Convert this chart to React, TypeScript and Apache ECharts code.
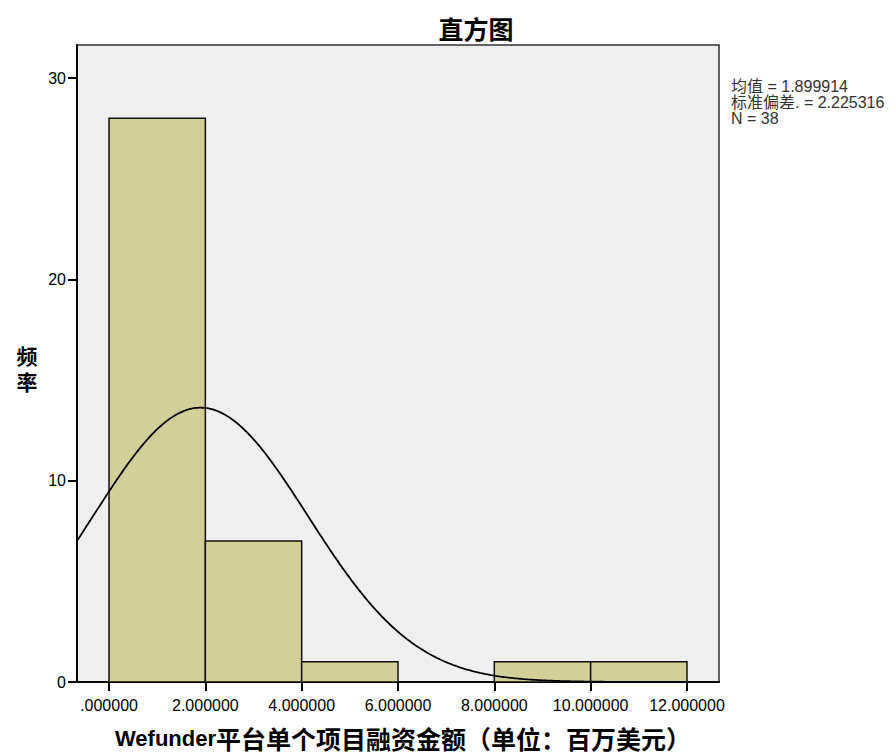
import React, { useEffect, useRef } from "react";
import * as echarts from "echarts";

const binLow = [0, 2, 4, 6, 8, 10];
const binHigh = [2, 4, 6, 8, 10, 12];
const frequency = [28, 7, 1, 0, 1, 1];
const xTicks = [0, 2, 4, 6, 8, 10, 12];
const yTicks = [0, 10, 20, 30];
const statMean = 1.899914;
const statSd = 2.225316;
const statN = 38;
const binWidth = 2;
const xMin = -0.665;
const xMax = 12.665;
const yMax = 31.64;

const FONT = "'Liberation Sans', Arial, 'Noto Sans CJK SC', sans-serif";
const CJK = "'Noto Sans CJK SC', sans-serif";

function normalCurve(): number[][] {
  const pts: number[][] = [];
  const steps = 400;
  for (let i = 0; i <= steps; i++) {
    const x = xMin + ((xMax - xMin) * i) / steps;
    const z = (x - statMean) / statSd;
    const y = (statN * binWidth) / (statSd * Math.sqrt(2 * Math.PI)) * Math.exp(-0.5 * z * z);
    pts.push([x, y]);
  }
  return pts;
}

export default function App() {
  const ref = useRef<HTMLDivElement>(null);
  useEffect(() => {
    if (!ref.current) return;
    const chart = echarts.init(ref.current, null, { renderer: "svg" });
    const barData = binLow.map((lo, i) => [lo, binHigh[i], frequency[i]]);
    const centerText = (x: number, y: number, text: string, size: number, family: string) => ({
      type: "text",
      x,
      y,
      style: {
        text,
        fontSize: size,
        lineHeight: size,
        fontWeight: "bold",
        fontFamily: family,
        fill: "#000",
        align: "center",
        verticalAlign: "middle",
        textAlign: "center",
        textVerticalAlign: "middle",
      },
    });
    chart.setOption({
      animation: false,
      backgroundColor: "#ffffff",
      grid: {
        left: 77,
        right: 177,
        top: 45,
        bottom: 72,
        show: true,
        backgroundColor: "#efefef",
        borderColor: "#333333",
        borderWidth: 1.5,
      },
      xAxis: {
        type: "value",
        min: xMin,
        max: xMax,
        splitLine: { show: false },
        axisLine: { show: true, onZero: false, lineStyle: { color: "#000", width: 2 } },
        axisTick: {
          show: true,
          customValues: xTicks,
          length: 9,
          lineStyle: { color: "#000", width: 2 },
        },
        axisLabel: {
          customValues: xTicks,
          margin: 15,
          color: "#000",
          fontSize: 16,
          fontFamily: FONT,
          formatter: (v: number) => (v === 0 ? ".000000" : v.toFixed(6)),
        },
      },
      yAxis: {
        type: "value",
        min: 0,
        max: yMax,
        splitLine: { show: false },
        axisLine: { show: true, onZero: false, lineStyle: { color: "#000", width: 2 } },
        axisTick: {
          show: true,
          customValues: yTicks,
          length: 9,
          lineStyle: { color: "#000", width: 2 },
        },
        axisLabel: {
          customValues: yTicks,
          margin: 11,
          color: "#000",
          fontSize: 16,
          fontFamily: FONT,
        },
      },
      series: [
        {
          type: "custom",
          data: barData,
          encode: { x: [0, 1], y: 2 },
          clip: true,
          z: 2,
          renderItem: (params: any, api: any) => {
            const h = api.value(2);
            if (!h) return null;
            const p0 = api.coord([api.value(0), h]);
            const p1 = api.coord([api.value(1), 0]);
            return {
              type: "rect",
              shape: { x: p0[0], y: p0[1], width: p1[0] - p0[0], height: p1[1] - p0[1] },
              style: { fill: "#d3cf98", stroke: "#111", lineWidth: 1.5 },
            };
          },
        },
        {
          type: "line",
          data: normalCurve(),
          showSymbol: false,
          symbol: "none",
          smooth: false,
          clip: true,
          z: 3,
          lineStyle: { color: "#000", width: 1.8 },
        },
      ],
      graphic: [
        centerText(476, 28, "直方图", 25, CJK),
        {
          type: "text",
          x: 403,
          y: 738,
          style: {
            text: "{a|Wefunder}{b|平台单个项目融资金额（单位：百万美元）}",
            align: "center",
            verticalAlign: "middle",
            textAlign: "center",
            textVerticalAlign: "middle",
            fill: "#000",
            rich: {
              a: { fontSize: 22, lineHeight: 22, fontWeight: "bold", fontFamily: FONT, fill: "#000" },
              b: { fontSize: 25, lineHeight: 22, fontWeight: "bold", fontFamily: CJK, fill: "#000" },
            },
          },
        },
        centerText(27, 355, "频", 21, CJK),
        centerText(27, 381, "率", 21, CJK),
        {
          type: "text",
          x: 731,
          y: 78,
          style: {
            text: `均值 = ${statMean.toFixed(6)}\n标准偏差. = ${statSd.toFixed(6)}\nN = ${statN}`,
            fontSize: 16,
            lineHeight: 16,
            fontFamily: FONT,
            fill: "#333",
            align: "left",
            verticalAlign: "top",
            textAlign: "left",
            textVerticalAlign: "top",
          },
        },
      ],
    });
    return () => chart.dispose();
  }, []);
  return <div ref={ref} style={{ width: 896, height: 754, position: "absolute", left: 0, top: 0 }} />;
}
